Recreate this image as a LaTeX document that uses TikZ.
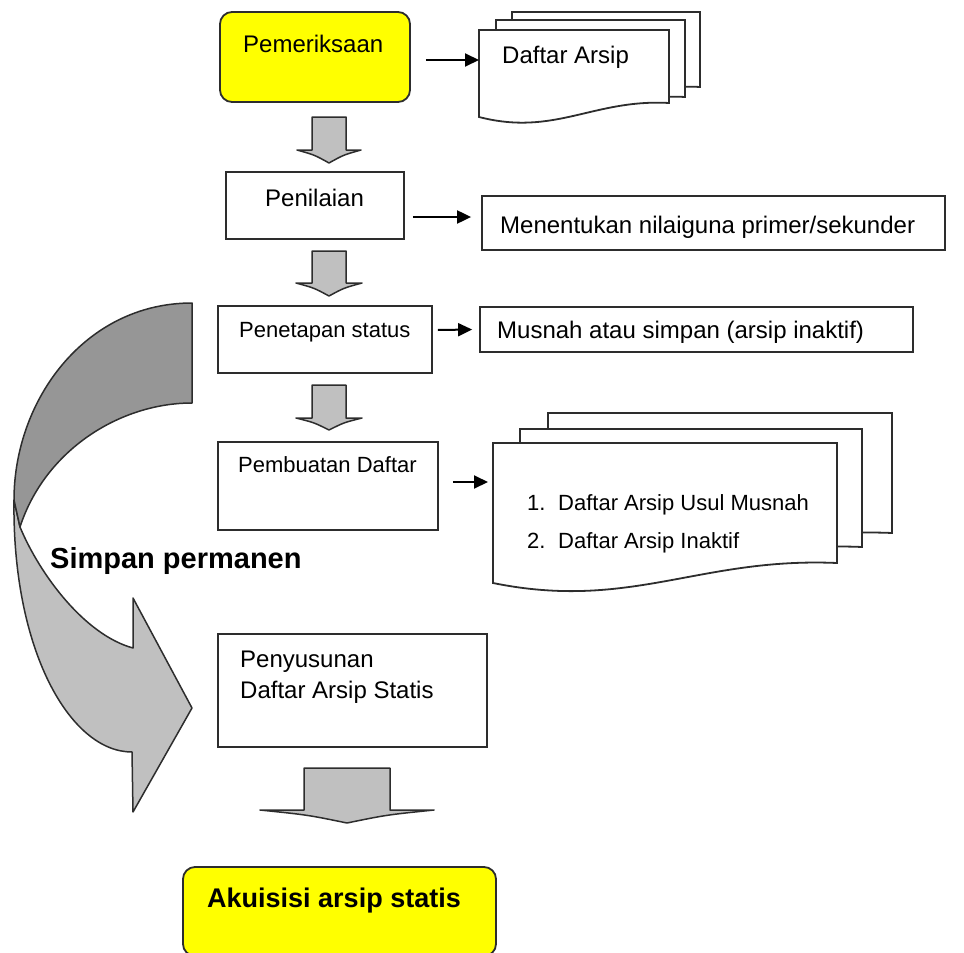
\documentclass[tikz,border=0pt]{standalone}
\usepackage{fontspec}
\setmainfont{Liberation Sans}
\usetikzlibrary{arrows.meta}

\definecolor{boxyellow}{RGB}{255,255,0}
\definecolor{arrowgray}{RGB}{192,192,192}
\definecolor{shadegray}{RGB}{150,150,150}
\definecolor{edgegray}{RGB}{45,45,45}

\tikzset{
  box/.style={draw=edgegray, line width=1.8pt, fill=white, inner sep=0pt},
  ybox/.style={box, fill=boxyellow, rounded corners=12pt},
  txt/.style={font=\fontsize{24}{29}\selectfont, inner sep=0pt, anchor=base west},
  smalltxt/.style={txt, font=\fontsize{22}{27}\selectfont},
  boldtxt/.style={txt, font=\fontsize{27}{32}\selectfont\bfseries},
  conn/.style={line width=2pt, -{Triangle[length=14pt,width=13pt]}},
  blockarr/.style={draw=edgegray, line width=1.5pt, fill=arrowgray, line join=round},
  page/.style={draw=edgegray, line width=1.8pt, fill=white},
}

\newcommand{\docpage}[5]{%
  \draw [page] (#1,#2) -- ({#1+#3},#2) -- ({#1+#3},{#2+#4})
    .. controls ({#1+0.6*#3},{#2+#4-0.3*#5}) and ({#1+0.4*#3},{#2+#4+2.4*#5}) .. (#1,{#2+#4+#5}) -- cycle;}
\newcommand{\blockdown}[6]{%
  \draw [blockarr] ({#1-#5},#2) -- ({#1+#5},#2) -- ({#1+#5},#3) -- ({#1+#6},#3)
    .. controls ({#1+0.45*#6},{#3+0.38*(#4-#3)}) .. (#1,#4)
    .. controls ({#1-0.45*#6},{#3+0.38*(#4-#3)}) .. ({#1-#6},#3) -- ({#1-#5},#3) -- cycle;}

\begin{document}
\begin{tikzpicture}[x=1pt,y=-1pt]
        \useasboundingbox (0,0) rectangle (964,953);

        \draw [blockarr] (14,500) .. controls (12,650) and (70,752) .. (132,752) -- (133,812) -- (192,708) -- (133,598) -- (133,648) .. controls (85,635) and (40,575) .. (20,527) -- cycle;
        \draw [blockarr, fill=shadegray] (192,303) .. controls (85,303) and (14,400) .. (14,500) -- (20,527) .. controls (45,450) and (120,403) .. (192,403) -- cycle;

        \node [ybox, minimum width=190pt, minimum height=90pt] (pem) at (315,57) {};
        \node [box, minimum width=178pt, minimum height=67pt] (pen) at (315,205.5) {};
        \node [box, minimum width=463pt, minimum height=54pt] (men) at (713.5,223) {};
        \node [box, minimum width=214pt, minimum height=67pt] (pet) at (325,339.5) {};
        \node [box, minimum width=433pt, minimum height=45pt] (mus) at (696.5,329.5) {};
        \node [box, minimum width=220pt, minimum height=88pt] (pbd) at (328,486) {};
        \node [box, minimum width=269pt, minimum height=113pt] (pys) at (352.5,690.5) {};
        \node [ybox, minimum width=313pt, minimum height=89pt] (aku) at (339.5,911.5) {};

        \docpage{512}{12}{188}{75}{14}
        \docpage{496}{20}{189}{77}{14}
        \docpage{479}{30}{190}{73}{14}
        \coordinate (dafin) at (479,60);

        \docpage{548}{413}{344}{120}{20}
        \docpage{520}{429}{342}{118}{20}
        \docpage{493}{443}{344}{120}{20}
        \coordinate (lstin) at (493,482);

        \blockdown{329}{117}{150}{163}{17}{32}
        \blockdown{329}{251}{283}{296}{17}{33}
        \blockdown{329}{385}{418}{430}{17}{33}
        \blockdown{347}{768}{810}{823}{43}{87}

        \draw [conn, shorten <=15pt] (pem.east |- dafin) -- (dafin);
        \draw [conn] ([xshift=8pt,yshift=-11.5pt]pen.east) -- ([xshift=-10pt,yshift=6pt]men.west);
        \draw [conn] ([xshift=5pt,yshift=9.5pt]pet.east) -- ([xshift=-7pt]mus.west);
        \draw [conn] ([xshift=14pt,yshift=4pt]pbd.east) -- ([xshift=-5pt]lstin);

        \node [txt] (tpem) at (243,52) {Pemeriksaan};
        \node [txt] (tdaf) at (502,63) {Daftar Arsip};
        \node [txt] (tpen) at (265,206) {Penilaian};
        \node [txt] (tmen) at (500,233) {Menentukan nilaiguna primer/sekunder};
        \node [smalltxt] (tpet) at (239,337) {Penetapan status};
        \node [txt] (tmus) at (497,338) {Musnah atau simpan (arsip inaktif)};
        \node [smalltxt] (tpbd) at (238,472) {Pembuatan Daftar};
        \node [smalltxt] (tls1) at (527,510) {\makebox[31pt][l]{1.}Daftar Arsip Usul Musnah};
        \node [smalltxt] (tls2) at (527,548) {\makebox[31pt][l]{2.}Daftar Arsip Inaktif};
        \node [txt] (tpys1) at (240,667) {Penyusunan};
        \node [txt] (tpys2) at (240,698) {Daftar Arsip Statis};
        \node [boldtxt, font=\fontsize{29}{34}\selectfont\bfseries] (tsim) at (50,568) {Simpan permanen};
        \node [boldtxt] (taku) at (207,907) {Akuisisi arsip statis};
\end{tikzpicture}
\end{document}
